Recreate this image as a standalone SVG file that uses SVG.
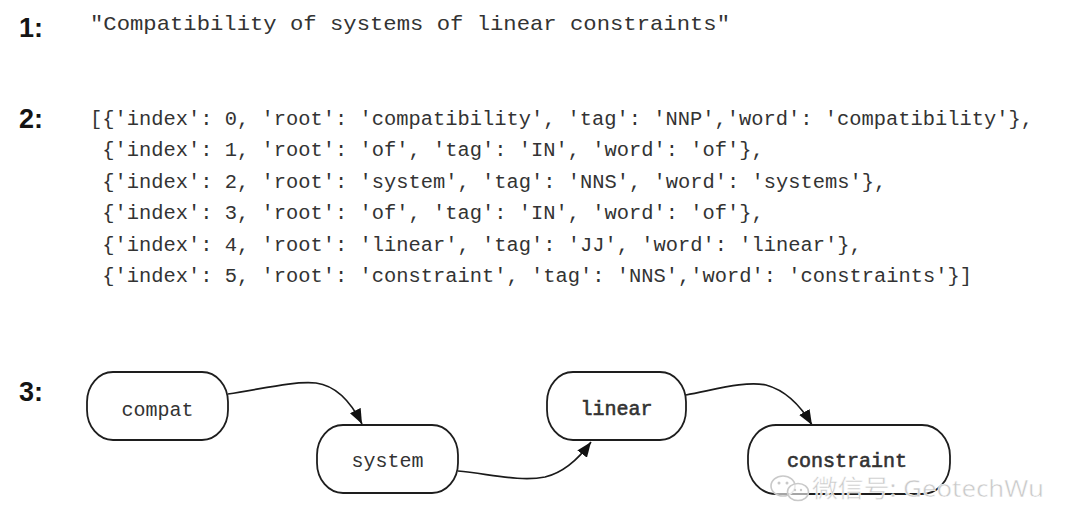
<svg xmlns="http://www.w3.org/2000/svg" width="1080" height="532" viewBox="0 0 1080 532">
  <defs>
    <style>
      .lbl { font-family: "Liberation Sans", Arial, sans-serif; font-weight: bold; font-size: 27px; fill: #141414; }
      .sent { font-family: "Liberation Mono", "Courier New", monospace; font-size: 21px; fill: #333; }
      .code { font-family: "Liberation Mono", "Courier New", monospace; font-size: 19.5px; fill: #333; }
      .node rect { fill: #fff; stroke: #1e1e1e; stroke-width: 1.8; }
      .node text { font-family: "Liberation Mono", "Courier New", monospace; font-size: 20px; fill: #333; text-anchor: middle; }
      .node text.heavy { stroke: #333; stroke-width: 0.6; }
      .edge { fill: none; stroke: #1a1a1a; stroke-width: 1.7; marker-end: url(#arrow); }
      .wm { font-family: "Noto Sans", "Noto Sans CJK SC", sans-serif; font-size: 24px; fill: #c9c9c9; stroke: #ffffff; stroke-width: 0.5; }
    </style>
    <marker id="arrow" viewBox="0 0 15 12" refX="15" refY="6" markerWidth="15" markerHeight="12" markerUnits="userSpaceOnUse" orient="auto">
      <path d="M0,0 L15,6 L0,12 z" fill="#111"/>
    </marker>
  </defs>
  <rect width="1080" height="532" fill="#ffffff"/>

  <g id="labels">
    <text class="lbl" x="19" y="37">1:</text>
    <text class="lbl" x="19" y="128">2:</text>
    <text class="lbl" x="19" y="401">3:</text>
  </g>

  <g id="sentence">
    <text class="sent" x="90" y="30" textLength="640" lengthAdjust="spacingAndGlyphs">"Compatibility of systems of linear constraints"</text>
  </g>

  <g id="tokens">
    <text class="code" x="90" y="125" textLength="943" lengthAdjust="spacingAndGlyphs">[{'index': 0, 'root': 'compatibility', 'tag': 'NNP','word': 'compatibility'},</text>
    <text class="code" x="102.3" y="156" textLength="661.5" lengthAdjust="spacingAndGlyphs">{'index': 1, 'root': 'of', 'tag': 'IN', 'word': 'of'},</text>
    <text class="code" x="102.3" y="188" textLength="784" lengthAdjust="spacingAndGlyphs">{'index': 2, 'root': 'system', 'tag': 'NNS', 'word': 'systems'},</text>
    <text class="code" x="102.3" y="219" textLength="661.5" lengthAdjust="spacingAndGlyphs">{'index': 3, 'root': 'of', 'tag': 'IN', 'word': 'of'},</text>
    <text class="code" x="102.3" y="251" textLength="759.5" lengthAdjust="spacingAndGlyphs">{'index': 4, 'root': 'linear', 'tag': 'JJ', 'word': 'linear'},</text>
    <text class="code" x="102.3" y="282" textLength="869.7" lengthAdjust="spacingAndGlyphs">{'index': 5, 'root': 'constraint', 'tag': 'NNS','word': 'constraints'}]</text>
  </g>

  <g id="connectors">
    <path class="edge" d="M228,394 C262,389 292,381 316,383 C338,386 352,404 362,424"/>
    <path class="edge" d="M458,471 C490,474 520,482 545,477 C566,472 580,457 591,442"/>
    <path class="edge" d="M686,395 C718,389 745,381 766,385 C788,391 802,408 812,425"/>
  </g>

  <g id="node-compat" class="node">
    <rect x="87" y="372" width="141" height="68" rx="26" ry="30"/>
    <text x="157.5" y="416">compat</text>
  </g>
  <g id="node-system" class="node">
    <rect x="317" y="425" width="141" height="68" rx="26" ry="30"/>
    <text x="387.5" y="467">system</text>
  </g>
  <g id="node-linear" class="node">
    <rect x="547" y="372" width="139" height="68" rx="26" ry="30"/>
    <text class="heavy" x="616.5" y="415">linear</text>
  </g>
  <g id="node-constraint" class="node">
    <rect x="748" y="425" width="202" height="69" rx="28" ry="31"/>
    <text class="heavy" x="847" y="467">constraint</text>
  </g>

  <g id="watermark">
    <ellipse cx="783" cy="486" rx="12" ry="10" fill="#ffffff" fill-opacity="0.6" stroke="#c9c9c9" stroke-width="1.6"/>
    <ellipse cx="798" cy="492" rx="10.5" ry="8.5" fill="#ffffff" fill-opacity="0.6" stroke="#c9c9c9" stroke-width="1.6"/>
    <circle cx="779" cy="483" r="1.5" fill="#c9c9c9"/>
    <circle cx="787" cy="483" r="1.5" fill="#c9c9c9"/>
    <circle cx="795" cy="490" r="1.2" fill="#c9c9c9"/>
    <circle cx="801" cy="490" r="1.2" fill="#c9c9c9"/>
    <text class="wm" x="812" y="497" textLength="232" lengthAdjust="spacingAndGlyphs">微信号: GeotechWu</text>
  </g>
</svg>
